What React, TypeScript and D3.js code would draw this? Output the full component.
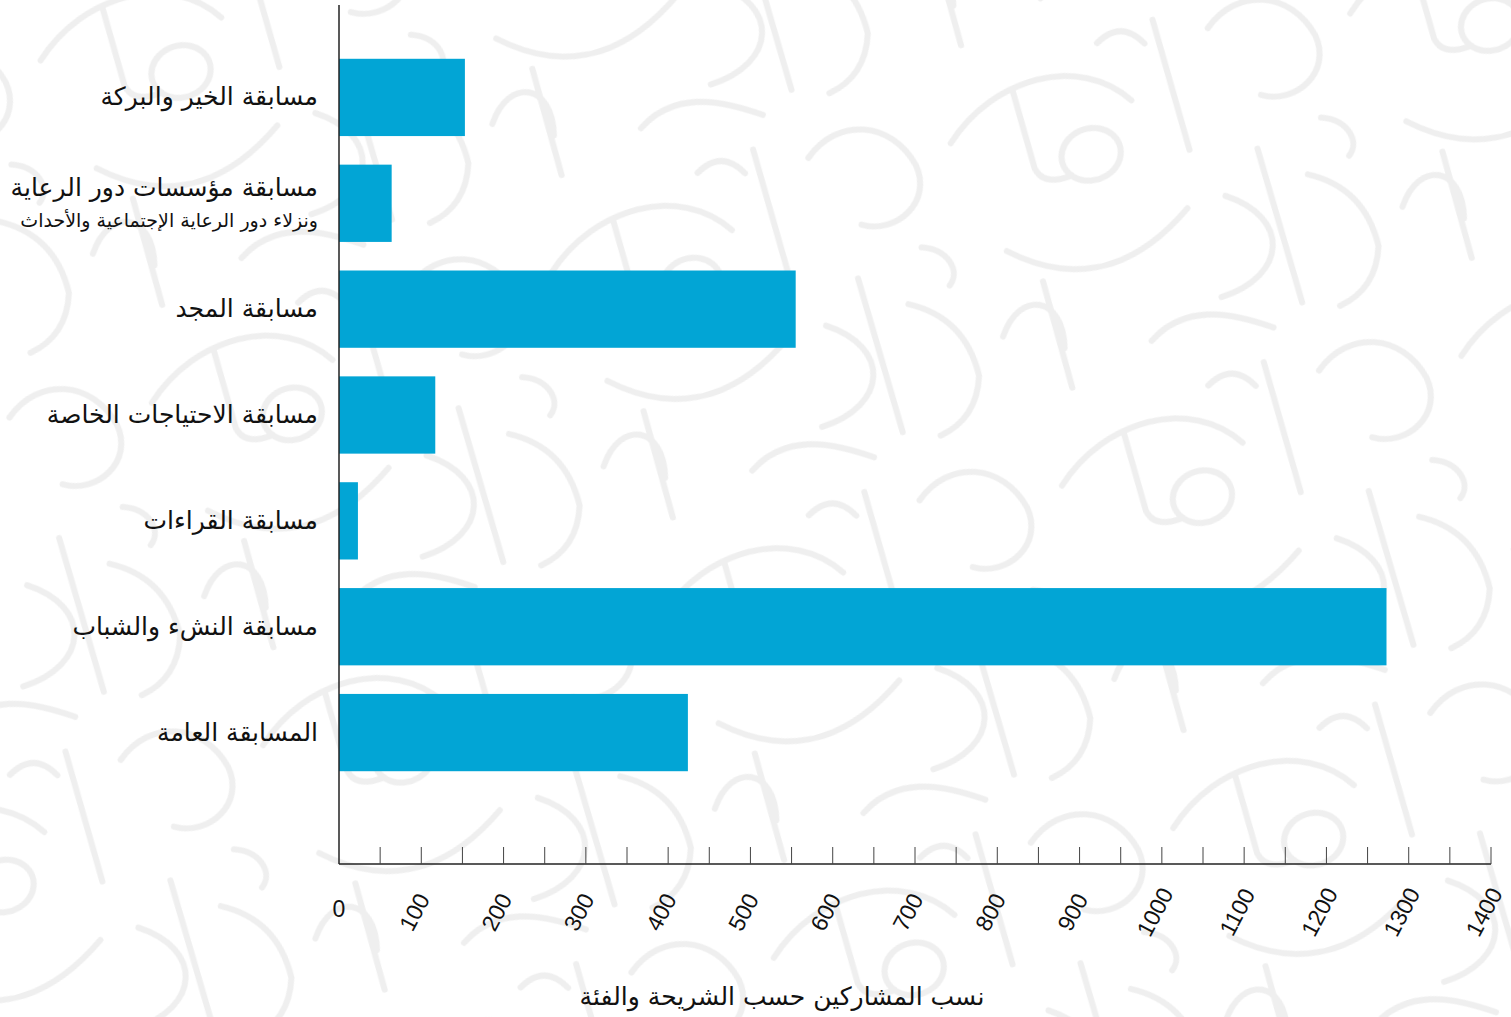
import React, { useRef, useEffect } from 'react'
import * as d3 from 'd3'

const width = 1511
const height = 1017
const margin = { top: 5, right: 20, bottom: 153, left: 339 }

const categories = [
    'مسابقة الخير والبركة',
    'مسابقة مؤسسات دور الرعاية',
    'مسابقة المجد',
    'مسابقة الاحتياجات الخاصة',
    'مسابقة القراءات',
    'مسابقة النشء والشباب',
    'المسابقة العامة',
]
const subLabels = ['', 'ونزلاء دور الرعاية الإجتماعية والأحداث', '', '', '', '', '']
const values = [153, 64, 555, 117, 23, 1273, 424]
const tickValues = d3.range(0, 1401, 50)
const tickLabels = d3.range(0, 1401, 100)
const axisTitle = 'نسب المشاركين حسب الشريحة والفئة'

// decorative strokes for the background tile (calligraphy-like texture)
const bgStrokes = [
    'M20,70 C80,20 170,25 205,85',
    'M250,15 L245,150',
    'M40,190 Q120,270 225,205',
    'M150,150 a30,26 0 1,1 0.1,0',
    'M265,205 C320,245 300,300 230,300',
    'M10,270 C40,230 80,250 65,300',
    'M95,40 L92,120 Q95,140 125,138',
    'M300,40 C340,10 390,30 400,80 C405,120 360,140 330,120',
    'M310,170 L305,330',
    'M350,210 Q400,240 395,300 Q380,340 340,345',
    'M150,320 C200,290 250,330 270,345',
    'M60,340 L65,230',
    'M190,20 Q220,5 235,35',
    'M380,160 C405,170 410,195 395,205',
]

export default function App() {
    const svgRef = useRef<SVGSVGElement>(null)

    useEffect(() => {
        const svg = d3.select(svgRef.current)
        svg.selectAll('*').remove()

        const x = d3.scaleLinear().domain([0, 1400]).range([margin.left, 1491])
        const y = d3.scaleBand<string>()
            .domain(categories)
            .range([44.5, 785.5])
            .paddingInner(0.27)
            .paddingOuter(0.135)
        const axisY = height - margin.bottom

        // background
        const pattern = svg.append('defs').append('pattern')
            .attr('id', 'bg-pattern')
            .attr('patternUnits', 'userSpaceOnUse')
            .attr('width', 420)
            .attr('height', 360)
            .attr('patternTransform', 'rotate(-18)')
        pattern.append('rect').attr('width', 420).attr('height', 360).attr('fill', '#ffffff')
        pattern.selectAll('path')
            .data(bgStrokes)
            .enter().append('path')
            .attr('d', d => d)
            .attr('fill', 'none')
            .attr('stroke', '#efefef')
            .attr('stroke-width', 6)
            .attr('stroke-linecap', 'round')

        svg.append('rect')
            .attr('width', width)
            .attr('height', height)
            .attr('fill', 'url(#bg-pattern)')

        // bars
        svg.append('g').selectAll('rect')
            .data(values)
            .enter().append('rect')
            .attr('x', x(0))
            .attr('y', (d, i) => y(categories[i])!)
            .attr('width', d => x(d) - x(0))
            .attr('height', y.bandwidth())
            .attr('fill', '#02a5d5')

        // category labels
        const labels = svg.append('g')
            .attr('font-family', '"DejaVu Sans", sans-serif')
            .attr('fill', '#111')
            .attr('text-anchor', 'end')
        categories.forEach((c, i) => {
            const cy = y(c)! + y.bandwidth() / 2
            const hasSub = subLabels[i] !== ''
            labels.append('text')
                .attr('x', 318)
                .attr('y', hasSub ? cy - 7 : cy + 8)
                .attr('font-size', 25)
                .text(c)
            if (hasSub) {
                labels.append('text')
                    .attr('x', 318)
                    .attr('y', cy + 24)
                    .attr('font-size', 19)
                    .text(subLabels[i])
            }
        })

        // axes
        svg.append('line')
            .attr('x1', x(0)).attr('x2', x(0))
            .attr('y1', margin.top).attr('y2', axisY)
            .attr('stroke', '#222').attr('stroke-width', 1.5)
        svg.append('line')
            .attr('x1', x(0)).attr('x2', x(1400))
            .attr('y1', axisY).attr('y2', axisY)
            .attr('stroke', '#222').attr('stroke-width', 1.5)

        svg.append('g').selectAll('line')
            .data(tickValues.slice(1))
            .enter().append('line')
            .attr('x1', d => x(d)).attr('x2', d => x(d))
            .attr('y1', axisY - 17).attr('y2', axisY)
            .attr('stroke', '#444').attr('stroke-width', 1)

        svg.append('g')
            .attr('font-family', '"Liberation Sans", Arial, sans-serif')
            .attr('font-size', 23)
            .attr('fill', '#111')
            .selectAll('text')
            .data(tickLabels)
            .enter().append('text')
            .attr('text-anchor', 'middle')
            .attr('dy', '0.35em')
            .attr('transform', d => `translate(${x(d) - (d === 0 ? 0 : 7)},${d === 0 ? 909 : 912}) rotate(${d === 0 ? 0 : -62})`)
            .text(d => d)

        svg.append('text')
            .attr('x', 782)
            .attr('y', 1005)
            .attr('text-anchor', 'middle')
            .attr('font-family', '"DejaVu Sans", sans-serif')
            .attr('font-size', 25)
            .attr('fill', '#111')
            .text(axisTitle)
    }, [])

    return (
        <div style={{ position: 'absolute', left: 0, top: 0 }}>
            <svg ref={svgRef} width={width} height={height} style={{ display: 'block' }}></svg>
        </div>
    )
}
